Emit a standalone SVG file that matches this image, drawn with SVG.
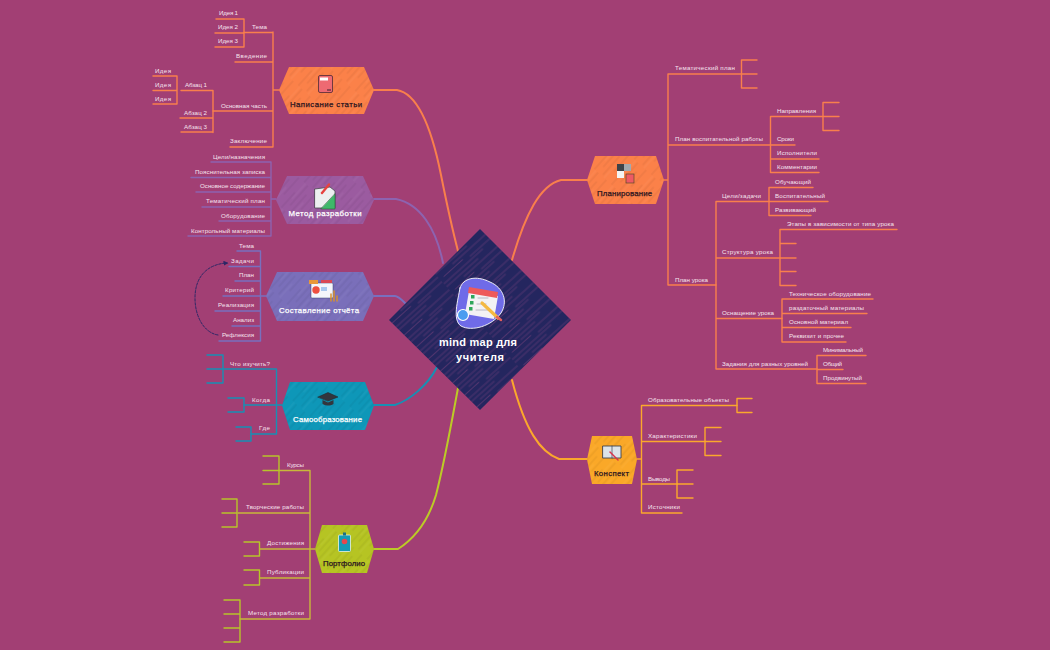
<svg xmlns="http://www.w3.org/2000/svg" width="1050" height="650" viewBox="0 0 1050 650">
<style>
text{font-family:"Liberation Sans","DejaVu Sans",sans-serif}
.t{font-size:6.2px;fill:#f6e3ee}
.h{font-size:7.8px;stroke-width:.25px}
.w{fill:#fff;stroke:#fff}.k{fill:#2a1420;stroke:#2a1420}
.c{font-size:11px;font-weight:bold;fill:#fff}
path{fill:none;stroke-linecap:round;stroke-linejoin:round}
.o path{stroke:#f97f4c;stroke-width:1.4}
.p path{stroke:#8d63b0;stroke-width:1.4}
.v path{stroke:#7870bf;stroke-width:1.4}
.b path{stroke:#1790b4;stroke-width:1.4}
.g path{stroke:#c8b83a;stroke-width:1.4}
.g path.l{stroke:#b8c42a}
.y path{stroke:#fba82c;stroke-width:1.4}
.g path.m{stroke:#bccb26}
.m{stroke-width:2px !important}
</style>
<defs>
<pattern id="hk" width="34" height="23" patternUnits="userSpaceOnUse" patternTransform="rotate(-48)"><path d="M0 3H20M8 8H34M2 13H26M12 19H34" stroke="#000" stroke-opacity=".1" stroke-width=".8"/><path d="M14 5H34M0 16H18" stroke="#fff" stroke-opacity=".08" stroke-width=".8"/></pattern>
<pattern id="hd" width="70" height="17" patternUnits="userSpaceOnUse" patternTransform="rotate(-42)"><path d="M0 2H42M20 6H70M5 9.500H30M38 12H70M0 15H52" stroke="#d8609a" stroke-opacity=".5" stroke-width=".5"/></pattern>
<marker id="ar" markerWidth="5" markerHeight="5" refX="3.5" refY="2.5" orient="auto"><path d="M0 0L5 2.5L0 5Z" style="fill:#2c2766;stroke:none"/></marker>
</defs>
<rect width="1050" height="650" fill="#a23f74"/>

<g id="connectors">
<g class="o"><path class="m" d="M374 90H397C420 94 433 135 441 175C447 205 452 228 458 251"/></g>
<g class="p"><path class="m" d="M374 199H396C420 204 436 228 443 263"/></g>
<g class="v"><path class="m" d="M374 296H395C398 296 402 300 405 303"/></g>
<g class="b"><path class="m" d="M374 405H395C410 400 428 385 437 367"/></g>
<g class="g"><path class="m" d="M374 549H398C420 535 430 515 436 495C445 460 452 420 458 388"/></g>
<g class="o"><path class="m" d="M587 180H561C540 185 525 215 512 260"/></g>
<g class="y"><path class="m" d="M587 459H559C540 452 525 430 512 380"/></g>

<g class="o">
<path d="M279 90H273M273 32V147M244 32.5H273M235 62H273M213 111H273M230 147H273"/>
<path d="M244 19V47M216 19H244M215 33H244M215 47H244"/>
<path d="M213 90.5V132.5M181 90.5H213M180 118H213M181 132H213M177 76V104M153 76H177M153 90.5H177M153 104H177"/>
</g>
<g class="p"><path d="M276 199H271M271 162V236M211 162H271M191 177.5H271M196 192H271M202 207H271M219 221H271M188 236H271"/></g>
<g class="v"><path d="M266 296H260.5M260.5 251V341M237 251H260.5M229 266.5H260.5M235 281H260.5M223 296H260.5M215 311H260.5M232 326H260.5M219 341H260.5"/></g>
<g class="b"><path d="M282 405H276.5M276.5 369V434M223 369H276.5M244 405H276.5M251 434H276.5"/>
<path d="M223 355V383M207 355H223M207 369H223M207 383H223M244 398V412M228 398H244M228 412H244M251 427V441M236 427H251M236 441H251"/></g>
<g class="g"><path d="M315 549H310M310 470.5V619M279 470.5H310M238 513H310M260 549H310M260 578H310M240 619H310"/>
<path class="l" d="M279 456V484M263 456H279M263 470.5H279M263 484H279M237 499V527M222 499H237M222 513H237M222 527H237M259.5 542V556M244 542H259.5M244 556H259.5M259.5 570V585M244 570H259.5M244 585H259.5M240 600V642M224 600H240M224 614H240M224 628H240M224 642H240"/></g>
<g class="o">
<path d="M664 180H668M668 74V285M668 74H741.5M668 145H770.5M668 285H716"/>
<path d="M741.5 60V88M741.5 60H757M741.5 74H757M741.5 88H757"/>
<path d="M770.5 116.5V172.5M770.5 116.5H823M770.5 145H795M770.5 159H819M770.5 172.5H819M823 102.5V130.5M823 102.5H839M823 116.5H839M823 130.5H839"/>
<path d="M716 201.5V369M716 201.5H769M716 258H780M716 318.5H782M716 369H817"/>
<path d="M769 187.5V215.5M769 187.5H813M769 201.5H828M769 215.5H811"/>
<path d="M780 229.5V285.5M780 229.5H897M780 243.5H796M780 258H796M780 271.5H796M780 285.5H796"/>
<path d="M782 299V342M782 299H873M782 313.5H867M782 327.5H851M782 342H846"/>
<path d="M817 355.5V383.5M817 355.5H866M817 369.5H843M817 383.5H866"/>
</g>
<g class="y">
<path d="M637 459H641.5M641.5 405.5V513M641.5 405.5H737M641.5 441.5H705M641.5 484H677M641.5 513H682"/>
<path d="M737 398.5V412.5M737 398.5H752M737 412.5H752M705 427.5V455.5M705 427.5H721M705 441.5H721M705 455.5H721M677 470V498M677 470H693M677 484H693M677 498H693"/>
</g>
<path id="relation" d="M218 335C205 333 195 318 195 298C195 276 208 264 227 263" stroke="#2c2766" stroke-width="1" stroke-dasharray="2.5 1.5" marker-end="url(#ar)"/>
</g>

<g id="leaf-labels">
<g text-anchor="end">
<text class="t" x="238" y="15" textLength="19">Идея 1</text><text class="t" x="238" y="29" textLength="20">Идея 2</text><text class="t" x="238" y="43" textLength="20">Идея 3</text>
<text class="t" x="267" y="29" textLength="15">Тема</text><text class="t" x="267" y="58" textLength="31">Введение</text><text class="t" x="267" y="108" textLength="46">Основная часть</text><text class="t" x="267" y="143" textLength="37">Заключение</text>
<text class="t" x="171" y="73" textLength="16">Идея</text><text class="t" x="171" y="87" textLength="16">Идея</text><text class="t" x="171" y="101" textLength="16">Идея</text>
<text class="t" x="207" y="87" textLength="22">Абзац 1</text><text class="t" x="207" y="115" textLength="23">Абзац 2</text><text class="t" x="207" y="129" textLength="23">Абзац 3</text>
<text class="t" x="265" y="159" textLength="52">Цели/назначения</text><text class="t" x="265" y="173.5" textLength="70">Пояснительная записка</text><text class="t" x="265" y="188" textLength="65">Основное содержание</text><text class="t" x="265" y="203" textLength="59">Тематический план</text><text class="t" x="265" y="218" textLength="44">Оборудование</text><text class="t" x="265" y="233" textLength="74">Контрольный материалы</text>
<text class="t" x="254" y="248" textLength="15">Тема</text><text class="t" x="254" y="263" textLength="23">Задачи</text><text class="t" x="254" y="277" textLength="15">План</text><text class="t" x="254" y="292" textLength="29">Критерий</text><text class="t" x="254" y="307" textLength="36">Реализация</text><text class="t" x="254" y="322" textLength="21">Анализ</text><text class="t" x="254" y="337" textLength="32">Рефлексия</text>
<text class="t" x="270" y="366" textLength="40">Что изучить?</text><text class="t" x="270" y="402" textLength="18">Когда</text><text class="t" x="270" y="430" textLength="11">Где</text>
<text class="t" x="304" y="467" textLength="17">Курсы</text><text class="t" x="304" y="509" textLength="58">Творческие работы</text><text class="t" x="304" y="545" textLength="37">Достижения</text><text class="t" x="304" y="574" textLength="37">Публикации</text><text class="t" x="304" y="615" textLength="56">Метод разработки</text>
</g>
<text class="t" x="675" y="70" textLength="60">Тематический план</text><text class="t" x="675" y="141" textLength="88">План воспитательной работы</text><text class="t" x="675" y="282" textLength="33">План урока</text>
<text class="t" x="777" y="113" textLength="39">Направления</text><text class="t" x="777" y="141" textLength="17">Сроки</text><text class="t" x="777" y="155" textLength="40">Исполнители</text><text class="t" x="777" y="169" textLength="40">Комментарии</text>
<text class="t" x="722" y="198" textLength="39">Цели/задачи</text><text class="t" x="775" y="184" textLength="36">Обучающий</text><text class="t" x="775" y="198" textLength="50">Воспитательный</text><text class="t" x="775" y="212" textLength="41">Развивающий</text>
<text class="t" x="722" y="254" textLength="51">Структура урока</text><text class="t" x="787" y="226" textLength="107">Этапы в зависимости от типа урока</text>
<text class="t" x="722" y="315" textLength="52">Оснащение урока</text><text class="t" x="789" y="296" textLength="82">Техническое оборудование</text><text class="t" x="789" y="310" textLength="75">раздаточный материалы</text><text class="t" x="789" y="324" textLength="59">Основной материал</text><text class="t" x="789" y="338" textLength="55">Реквизит и прочее</text>
<text class="t" x="722" y="366" textLength="86">Задания для разных уровней</text><text class="t" x="823" y="352" textLength="40">Минимальный</text><text class="t" x="823" y="366" textLength="19">Общий</text><text class="t" x="823" y="380" textLength="39">Продвинутый</text>
<text class="t" x="648" y="402" textLength="81">Образовательные объекты</text><text class="t" x="648" y="438" textLength="49">Характеристики</text><text class="t" x="648" y="481" textLength="22">Выводы</text><text class="t" x="648" y="509" textLength="32">Источники</text>
</g>

<g id="node-writing">
<path d="M279 90L289 67H364L374 90L364 114H289Z" style="fill:#fb8149"/><path d="M279 90L289 67H364L374 90L364 114H289Z" style="fill:url(#hk)"/>
<rect x="318.500" y="75.500" width="14" height="17" rx="1.500" style="fill:#ee6a72;stroke:#3a2030;stroke-width:.7"/><rect x="320" y="77.500" width="8" height="3" style="fill:#fff"/><rect x="327" y="89.500" width="4" height="1" style="fill:#3a2030"/>
<text class="h k" x="326" y="106.500" text-anchor="middle" textLength="72">Написание статьи</text>
</g>
<g id="node-method">
<path d="M276 200L287 176H363L374 200L363 224H287Z" style="fill:#9b5ba0"/><path d="M276 200L287 176H363L374 200L363 224H287Z" style="fill:url(#hk)"/>
<path d="M315 189L330 187L335 191V208H315Z" style="fill:#eceff0;stroke:#4a4a50;stroke-width:.8"/><path d="M335 194V209H321Z" style="fill:#3fb86a;stroke:#2d5a3a;stroke-width:.6"/><path d="M322 193L329 184.500" style="stroke:#e5423f;stroke-width:2.400"/>
<text class="h w" x="325" y="215.500" text-anchor="middle" textLength="73">Метод разработки</text>
</g>
<g id="node-report">
<path d="M266 296L277 272H363L374 296L363 321H277Z" style="fill:#7a6fba"/><path d="M266 296L277 272H363L374 296L363 321H277Z" style="fill:url(#hk)"/>
<rect x="311" y="283" width="22" height="15" rx="1" style="fill:#f4f6fb;stroke:#39456e;stroke-width:.5"/><rect x="309" y="280" width="9" height="4" style="fill:#e8993a"/><rect x="321" y="280" width="11" height="3" style="fill:#d94854"/><circle cx="316" cy="290" r="3.700" style="fill:#ee4f3f;stroke:none"/><rect x="321" y="287" width="6" height="4" style="fill:#a9c8ee"/><path d="M331 301V294M334 301V291M337 301V296" style="stroke:#d8912f;stroke-width:1.500"/>
<text class="h w" x="319" y="312.500" text-anchor="middle" textLength="80">Составление отчёта</text>
</g>
<g id="node-self">
<path d="M282 405.500L290 382H365L374 405.500L365 430H290Z" style="fill:#0e97b8"/><path d="M282 405.500L290 382H365L374 405.500L365 430H290Z" style="fill:url(#hk)"/>
<path d="M318 397L328 392.500L338 397L328 401Z" style="fill:#33363d;stroke:#222;stroke-width:.5"/><path d="M322.500 400V404C326 406 330 406 333.500 404V400L328 402.500Z" style="fill:#33363d;stroke:none"/>
<text class="h w" x="327.500" y="421.500" text-anchor="middle" textLength="69">Самообразование</text>
</g>
<g id="node-portfolio">
<path d="M315 549L322 525H367L374 549L367 573H322Z" style="fill:#b6c423"/><path d="M315 549L322 525H367L374 549L367 573H322Z" style="fill:url(#hk)"/>
<rect x="338.500" y="535" width="12" height="16.500" rx="1" style="fill:#149bb5;stroke:#e7f3e9;stroke-width:.8"/><rect x="343" y="532.500" width="3" height="3" style="fill:#1b6f85"/><circle cx="344.500" cy="541.500" r="2.800" style="fill:#e5484d"/>
<text class="h k" x="344" y="565.500" text-anchor="middle" textLength="42">Портфолио</text>
</g>
<g id="node-plan">
<path d="M587 180L595 156H656L664 180L656 204H595Z" style="fill:#fb8149"/><path d="M587 180L595 156H656L664 180L656 204H595Z" style="fill:url(#hk)"/>
<rect x="617" y="164" width="7" height="7" style="fill:#3d4248"/><rect x="624" y="164" width="7" height="7" style="fill:#a3a9ae"/><rect x="617" y="171" width="7" height="7" style="fill:#f4f4f4"/><rect x="626" y="174" width="8" height="9" style="fill:#ee5a63;stroke:#442;stroke-width:.6"/>
<text class="h k" x="624.500" y="195.500" text-anchor="middle" textLength="55">Планирование</text>
</g>
<g id="node-summary">
<path d="M587 459.500L592 436H632L637 459.500L632 484H592Z" style="fill:#faa828"/><path d="M587 459.500L592 436H632L637 459.500L632 484H592Z" style="fill:url(#hk)"/>
<path d="M603 446H621V458H603Z" style="fill:#dce3e8;stroke:#3d4450;stroke-width:.9"/><path d="M612 446V458" style="stroke:#3d4450;stroke-width:.7"/><path d="M610 452L618 460" style="stroke:#d8334a;stroke-width:1.500"/>
<text class="h k" x="611.500" y="475.500" text-anchor="middle" textLength="35">Конспект</text>
</g>
<g id="node-center">
<path d="M480 229L571 320L480 410L389 320Z" style="fill:#24265f"/><path d="M480 229L571 320L480 410L389 320Z" style="fill:url(#hd)"/>
<path d="M460 288C463 278 476 275 490 282C504 288 508 302 501 313C492 326 472 332 461 326C452 320 458 300 460 288Z" style="fill:#6f6be8;stroke:#fff;stroke-width:.9"/>
<path d="M469 291L498 296L494 319L465 314Z" style="fill:#f3f2f4"/><path d="M469 287L498 292L497 298L468 293Z" style="fill:#ee5a5a"/>
<rect x="471" y="295" width="3.500" height="3.500" style="fill:#2fa65a"/><rect x="470" y="301" width="3.500" height="3.500" style="fill:#2fa65a"/><rect x="469" y="307" width="3.500" height="3.500" style="fill:#2fa65a"/>
<path d="M478 298H488M477 304H486M476 310H488" style="stroke:#b8b8c4;stroke-width:1"/>
<path d="M482 303L498 318" style="stroke:#f4b942;stroke-width:3.200"/><path d="M497 317L501 320" style="stroke:#e5605c;stroke-width:2.500"/>
<circle cx="463" cy="315" r="5.500" style="fill:#4a9df0;stroke:#fff;stroke-width:1.200"/>
<text class="c" x="478" y="346" text-anchor="middle" textLength="78">mind map для</text>
<text class="c" x="480" y="361" text-anchor="middle" textLength="48">учителя</text>
</g>
</svg>
